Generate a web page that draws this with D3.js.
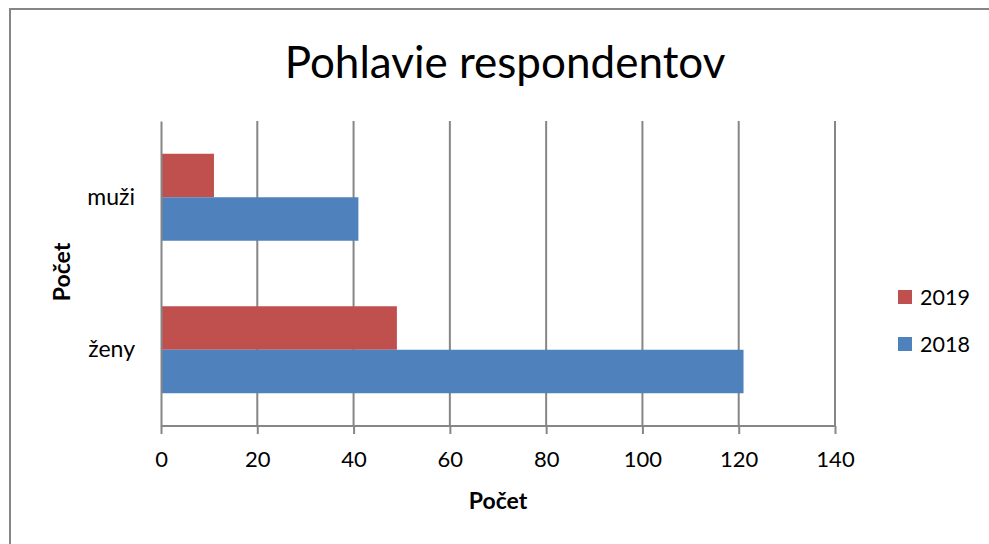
<!DOCTYPE html>
<html><head><meta charset="utf-8">
<script src="https://cdn.jsdelivr.net/npm/d3@7"></script>
<style>body{margin:0;background:#fff}svg{display:block}text{font-family:Lato,"Open Sans",sans-serif;fill:#000}</style>
</head><body>
<svg id="c" width="989" height="544"></svg>
<script>
const categories = ["muži", "ženy"];
const seriesNames = ["2019", "2018"];
const values2019 = [11, 49];
const values2018 = [41, 121];
const xTicks = [0, 20, 40, 60, 80, 100, 120, 140];
const colors = ["#C0504D", "#4F81BD"];
const title = "Pohlavie respondentov";
const axisTitle = "Počet";

const svg = d3.select("#c");
svg.append("rect").attr("x", 10).attr("y", 9).attr("width", 1000).attr("height", 600)
  .attr("fill", "#fff").attr("stroke", "#868686").attr("stroke-width", 2);

const m = {l: 161, r: 835, t: 121, b: 426};
const x = d3.scaleLinear().domain([0, 140]).range([m.l, m.r]);
const y0 = d3.scaleBand().domain(categories).range([m.t, m.b]).padding(0);
const y1 = d3.scaleBand().domain(seriesNames).range([0, y0.bandwidth()]).paddingInner(0).paddingOuter(0.753);

// gridlines
svg.append("g").selectAll("line").data(xTicks.slice(1)).join("line")
  .attr("x1", d => x(d)).attr("x2", d => x(d)).attr("y1", m.t).attr("y2", m.b)
  .attr("stroke", "#868686").attr("stroke-width", 2);

const data = categories.map((c, i) => ({cat: c, vals: [values2019[i], values2018[i]]}));
const g = svg.append("g");
data.forEach(d => {
  seriesNames.forEach((s, j) => {
    g.append("rect").attr("x", x(0)).attr("y", y0(d.cat) + y1(s))
      .attr("width", x(d.vals[j]) - x(0)).attr("height", y1.bandwidth())
      .attr("fill", colors[j]);
  });
});

// axes
const xAxis = d3.axisBottom(x).tickValues(xTicks).tickSize(8).tickPadding(17);
const ax = svg.append("g").attr("transform", `translate(0,${m.b})`).call(xAxis);
ax.select(".domain").attr("stroke", "#868686").attr("stroke-width", 2).attr("d", `M${m.l},0H${m.r}`);
ax.selectAll(".tick line").attr("stroke", "#868686").attr("stroke-width", 2);
ax.selectAll(".tick text").style("font-size", "22px").style("font-family", "Lato, sans-serif").attr("fill", "#000");

const yAxis = d3.axisLeft(y0).tickSize(0).tickPadding(26);
const ay = svg.append("g").attr("transform", `translate(${m.l},0)`).call(yAxis);
ay.select(".domain").attr("stroke", "#868686").attr("stroke-width", 2);
ay.selectAll(".tick text").style("font-size", "23px").style("font-family", "Lato, sans-serif").attr("fill", "#000");

// titles
svg.append("text").attr("x", 505).attr("y", 78).attr("text-anchor", "middle")
  .style("font-size", "44px").text(title);
svg.append("text").attr("x", 498).attr("y", 509).attr("text-anchor", "middle")
  .style("font-size", "23px").style("font-weight", "bold").text(axisTitle);
svg.append("text").attr("transform", "translate(70,272) rotate(-90)").attr("text-anchor", "middle")
  .style("font-size", "23px").style("font-weight", "bold").text(axisTitle);

// legend
const lg = svg.append("g");
seriesNames.forEach((s, j) => {
  const yy = 297 + j * 47;
  lg.append("rect").attr("x", 898).attr("y", yy - 7).attr("width", 14).attr("height", 14).attr("fill", colors[j]);
  lg.append("text").attr("x", 920).attr("y", yy + 8).style("font-size", "21.5px").text(s);
});
</script>
</body></html>
